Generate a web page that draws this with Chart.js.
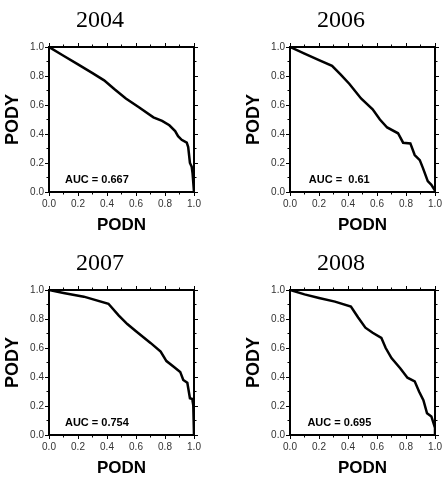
<!DOCTYPE html>
<html>
<head>
<meta charset="utf-8">
<script src="https://cdn.jsdelivr.net/npm/chart.js@4"></script>
<style>
  html, body { margin: 0; padding: 0; background: #fff; overflow: hidden; }
  canvas { position: absolute; }
</style>
</head>
<body>
<canvas id="c2004" width="204" height="240" style="left:0px;top:0px"></canvas>
<canvas id="c2006" width="204" height="240" style="left:241px;top:0px"></canvas>
<canvas id="c2007" width="204" height="240" style="left:0px;top:243px"></canvas>
<canvas id="c2008" width="204" height="240" style="left:241px;top:243px"></canvas>
<script>
// ── Data ──
const YEARS = ['2004', '2006', '2007', '2008'];
const AUC_TEXT = ['AUC = 0.667', 'AUC =  0.61', 'AUC = 0.754', 'AUC = 0.695'];

const podn2004 = [0, 0.1, 0.2, 0.3, 0.38, 0.45, 0.53, 0.62, 0.72, 0.78, 0.83, 0.87, 0.89, 0.915, 0.95, 0.96, 0.972, 0.984, 0.99, 1.0];
const pody2004 = [1, 0.94, 0.88, 0.82, 0.77, 0.71, 0.645, 0.585, 0.515, 0.49, 0.46, 0.42, 0.385, 0.36, 0.34, 0.31, 0.2, 0.175, 0.13, 0.0];

const podn2006 = [0, 0.1, 0.2, 0.29, 0.35, 0.41, 0.49, 0.57, 0.62, 0.67, 0.745, 0.78, 0.83, 0.86, 0.895, 0.917, 0.95, 0.975, 1.0];
const pody2006 = [1, 0.955, 0.91, 0.87, 0.81, 0.745, 0.645, 0.57, 0.5, 0.445, 0.405, 0.34, 0.335, 0.255, 0.22, 0.165, 0.075, 0.05, 0.01];

const podn2007 = [0, 0.1, 0.24, 0.41, 0.48, 0.54, 0.6, 0.7, 0.77, 0.81, 0.86, 0.905, 0.926, 0.954, 0.972, 0.988, 0.995, 1.0];
const pody2007 = [1, 0.98, 0.954, 0.905, 0.825, 0.765, 0.715, 0.635, 0.575, 0.51, 0.47, 0.435, 0.38, 0.36, 0.253, 0.248, 0.205, 0.0];

const podn2008 = [0, 0.1, 0.2, 0.31, 0.42, 0.47, 0.52, 0.57, 0.63, 0.66, 0.7, 0.76, 0.81, 0.86, 0.89, 0.92, 0.945, 0.975, 1.0, 1.0];
const pody2008 = [1, 0.97, 0.945, 0.92, 0.885, 0.81, 0.74, 0.705, 0.67, 0.6, 0.53, 0.46, 0.395, 0.37, 0.3, 0.24, 0.15, 0.128, 0.05, 0.0];

const SERIES = [[podn2004, pody2004], [podn2006, pody2006], [podn2007, pody2007], [podn2008, pody2008]];
const AUC_POS_X = [0.11, 0.13, 0.11, 0.12];   // label anchor in PODN units
const AUC_POS_Y = 0.083;

const SANS = '"Liberation Sans", Arial, Helvetica, sans-serif';
const SERIF = '"Liberation Serif", "Times New Roman", serif';

// ── Minor ticks (every 0.1) pointing outward on all four sides ──
const minorTicks = {
  id: 'minorTicks',
  afterDraw(chart) {
    const { ctx, chartArea: a, scales } = chart;
    ctx.save();
    ctx.strokeStyle = '#000';
    ctx.lineWidth = 1;
    ctx.beginPath();
    for (let v = 0.1; v < 1; v += 0.2) {
      const px = scales.x.getPixelForValue(v);
      const py = scales.y.getPixelForValue(v);
      ctx.moveTo(px, a.bottom); ctx.lineTo(px, a.bottom + 2.5);
      ctx.moveTo(px, a.top);    ctx.lineTo(px, a.top - 2.5);
      ctx.moveTo(a.left, py);   ctx.lineTo(a.left - 2.5, py);
      ctx.moveTo(a.right, py);  ctx.lineTo(a.right + 2.5, py);
    }
    ctx.stroke();
    ctx.restore();
  }
};

// ── AUC annotation placed in data coordinates ──
const aucLabel = {
  id: 'aucLabel',
  afterDatasetsDraw(chart, args, opts) {
    const { ctx, scales } = chart;
    ctx.save();
    ctx.font = 'bold 11px ' + SANS;
    ctx.fillStyle = '#000';
    ctx.textAlign = 'left';
    ctx.textBaseline = 'middle';
    ctx.fillText(opts.text, scales.x.getPixelForValue(opts.x), scales.y.getPixelForValue(opts.y));
    ctx.restore();
  }
};

function axis(position, opts) {
  const horizontal = position === 'top' || position === 'bottom';
  return Object.assign({
    type: 'linear',
    position,
    min: 0,
    max: 1,
    border: { display: true, color: '#000', width: 2 },
    grid: { drawOnChartArea: false, drawTicks: true, tickLength: 4, color: '#000', lineWidth: 1 },
    ticks: {
      display: false,
      stepSize: 0.2,
      padding: horizontal ? 2 : 1,
      color: '#333',
      font: { family: SANS, size: 10 },
      callback: v => v.toFixed(1)
    }
  }, opts);
}

function makeChart(i) {
  const [xs, ys] = SERIES[i];
  const pts = xs.map((x, k) => ({ x, y: ys[k] }));

  const xAxis = axis('bottom', {
    afterFit: s => { s.height = 48; },
    title: { display: true, text: 'PODN', color: '#000', padding: { top: 0, bottom: 4 },
             font: { family: SANS, size: 17, weight: 'bold' } }
  });
  xAxis.ticks.display = true;

  const yAxis = axis('left', {
    afterFit: s => { s.width = 49; },
    title: { display: true, text: 'PODY', color: '#000', padding: { top: 2, bottom: 0 },
             font: { family: SANS, size: 18, weight: 'bold' } }
  });
  yAxis.ticks.display = true;

  new Chart(document.getElementById('c' + YEARS[i]), {
    type: 'scatter',
    data: {
      datasets: [{
        data: pts,
        showLine: true,
        borderColor: '#000',
        borderWidth: 2.5,
        pointRadius: 0,
        tension: 0,
        xAxisID: 'x',
        yAxisID: 'y'
      }]
    },
    options: {
      responsive: false,
      animation: false,
      devicePixelRatio: 1,
      layout: { padding: { left: 0, right: 4, top: 0, bottom: 0 } },
      plugins: {
        legend: { display: false },
        tooltip: { enabled: false },
        title: {
          display: true,
          text: YEARS[i],
          color: '#000',
          font: { family: SERIF, size: 24, weight: 'normal' },
          padding: { top: 6, bottom: 6.2 }
        },
        aucLabel: { text: AUC_TEXT[i], x: AUC_POS_X[i], y: AUC_POS_Y }
      },
      scales: {
        x: xAxis,
        y: yAxis,
        x2: axis('top', { afterFit: s => { s.height = 6; } }),
        y2: axis('right', { afterFit: s => { s.width = 6; } })
      }
    },
    plugins: [minorTicks, aucLabel]
  });
}

YEARS.forEach((y, i) => makeChart(i));
</script>
</body>
</html>
